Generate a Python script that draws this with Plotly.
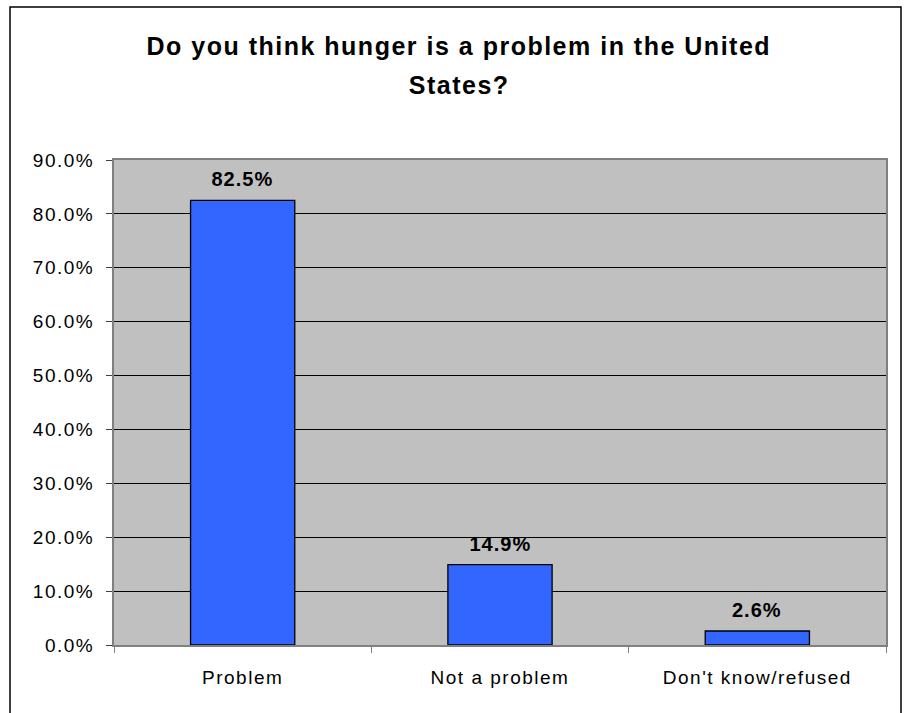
import plotly.graph_objects as go

categories = ["Problem", "Not a problem", "Don't know/refused"]
shares = [0.825, 0.149, 0.026]
title_lines = ["Do you think hunger is a problem in the United", "States?"]

W, H = 906, 713
L, R, T, B = 114, 20, 160, 68
pw, ph = W - L - R, H - T - B
FONT = "Liberation Sans, Arial, Helvetica, sans-serif"


def px_x(x):
    return (x - L) / pw


def px_y(y):
    return 1 - (y - T) / ph


fig = go.Figure(
    go.Bar(
        x=categories,
        y=shares,
        marker=dict(color="#3366FF", line=dict(color="#000000", width=1.3)),
        width=0.405,
        hoverinfo="skip",
    )
)

# value labels above each bar
for c, v in zip(categories, shares):
    fig.add_annotation(
        x=c, y=v, text=f"<b>{v * 100:.1f}%</b>", showarrow=False,
        yanchor="bottom", yshift=8,
        font=dict(family=FONT, size=20, color="#000000"),
    )

# two-line chart title
for line, ypix in zip(title_lines, [46, 85]):
    fig.add_annotation(
        xref="paper", yref="paper", x=px_x(459), y=px_y(ypix),
        xanchor="center", yanchor="middle", showarrow=False,
        text=f"<b>{line}</b>",
        font=dict(family=FONT, size=25, color="#000000"),
    )

# outer chart frame (open at the bottom edge of the page)
fig.add_shape(
    type="rect", xref="paper", yref="paper",
    x0=px_x(10), x1=px_x(901), y0=px_y(720), y1=px_y(7),
    line=dict(color="#000000", width=1.5), layer="below",
)

fig.update_layout(
    width=W, height=H,
    margin=dict(l=L, r=R, t=T, b=B),
    paper_bgcolor="#FFFFFF",
    plot_bgcolor="#C0C0C0",
    showlegend=False,
    xaxis=dict(
        type="category",
        tickson="boundaries",
        ticks="outside", ticklen=6, tickcolor="#808080", tickwidth=1,
        showline=True, linecolor="#808080", linewidth=2, mirror=True,
        showgrid=False,
        ticklabelstandoff=14,
        tickfont=dict(family=FONT, size=19, color="#000000"),
    ),
    yaxis=dict(
        range=[0, 0.9], dtick=0.1, tickformat=".1%",
        ticks="outside", ticklen=6, tickcolor="#404040", tickwidth=1,
        showline=True, linecolor="#808080", linewidth=2, mirror=True,
        showgrid=True, gridcolor="#000000", gridwidth=1,
        zeroline=False,
        ticklabelstandoff=8,
        tickfont=dict(family=FONT, size=19, color="#000000"),
    ),
)

# wider tracking on the text, as in the printed chart style
spacing_css = """
.xtick text, .ytick text { letter-spacing: 1.5px; }
.annotation[data-index="0"] text, .annotation[data-index="1"] text,
.annotation[data-index="2"] text { letter-spacing: 1px; }
.annotation[data-index="3"] text, .annotation[data-index="4"] text { letter-spacing: 1.5px; }
"""
post_js = (
    "var s=document.createElement('style');"
    "s.textContent=" + repr(spacing_css).replace("\n", " ") + ";"
    "document.head.appendChild(s);"
)

fig.write_html("out.html", post_script=post_js)
